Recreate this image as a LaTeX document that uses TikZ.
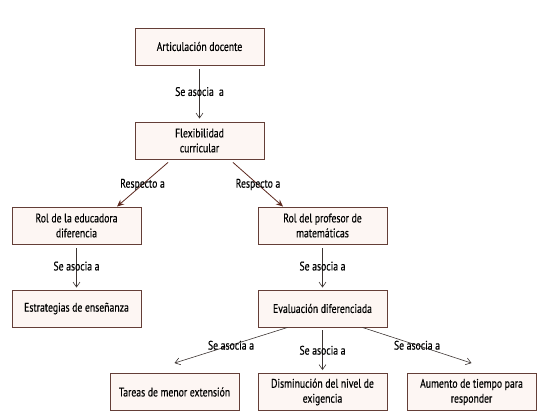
\documentclass[tikz,border=0pt]{standalone}
\usepackage{fontspec}
\setmainfont[FakeStretch=0.78,FakeBold=0.4]{PT Sans}
\usepackage{tikz}
\usetikzlibrary{arrows.meta}

\definecolor{boxline}{RGB}{100,62,55}
\definecolor{boxfill}{RGB}{253,246,243}
\definecolor{asocline}{RGB}{60,52,50}
\definecolor{respline}{RGB}{92,40,30}

\begin{document}
\begin{tikzpicture}[x=1bp,y=-1bp,
		concept/.style={draw=boxline, fill=boxfill, line width=0.9pt, minimum width=129bp, minimum height=37bp, align=center, inner sep=2pt, font=\fontsize{12.5}{15}\selectfont},
		asocia/.style={draw=asocline, line width=0.6pt, -{Straight Barb[length=5pt,width=7pt]}},
		respecto/.style={draw=respline, line width=0.8pt, -{Stealth[length=7pt,width=6pt]}},
		linklabel/.style={font=\fontsize{12.5}{15}\selectfont, inner sep=1pt}]
		
		\useasboundingbox (0,0) rectangle (548,418);
		
		% Define the concept nodes
		\node[concept] (articulacion) at (199.5,46.5) {Articulación docente};
		\node[concept] (flexibilidad) at (199.5,140.5) {Flexibilidad\\curricular};
		\node[concept] (educadora) at (76.5,225.5) {Rol de la educadora\\diferencia};
		\node[concept] (profesor) at (322.5,225.5) {Rol del profesor de\\matemáticas};
		\node[concept] (estrategias) at (76.5,308.5) {Estrategias de enseñanza};
		\node[concept] (evaluacion) at (322.5,308.5) {Evaluación diferenciada};
		\node[concept] (tareas) at (174.5,392) {Tareas de menor extensión};
		\node[concept] (disminucion) at (322.5,392) {Disminución del nivel de\\exigencia};
		\node[concept] (aumento) at (471.5,392) {Aumento de tiempo para\\responder};
		
		% Draw the "Se asocia a" links
		\draw[asocia] ([yshift=-4bp]articulacion.south) -- ([yshift=3bp]flexibilidad.north)
			node[linklabel, pos=0.45] {Se asocia\ \ a};
		\draw[asocia] ([yshift=-4bp]educadora.south) -- ([yshift=2bp]estrategias.north)
			node[linklabel, pos=0.45] {Se asocia a};
		\draw[asocia] ([yshift=-4bp]profesor.south) -- ([yshift=2bp]evaluacion.north)
			node[linklabel, pos=0.45] {Se asocia a};
		\draw[asocia] ([xshift=-35bp]evaluacion.south) -- ([yshift=10bp]tareas.north)
			node[linklabel, pos=0.5] {Se asocia a};
		\draw[asocia] ([yshift=-3bp]evaluacion.south) -- ([yshift=3bp]disminucion.north)
			node[linklabel, pos=0.5] {Se asocia a};
		\draw[asocia] ([xshift=40bp]evaluacion.south) -- ([yshift=10bp]aumento.north)
			node[linklabel, pos=0.5] {Se asocia a};
		
		% Draw the "Respecto a" links
		\draw[respecto] ([xshift=-31.5bp,yshift=-3bp]flexibilidad.south) -- ([xshift=40.5bp]educadora.north)
			node[linklabel, pos=0.5] {Respecto a};
		\draw[respecto] ([xshift=33.5bp,yshift=-3bp]flexibilidad.south) -- ([xshift=-39.5bp]profesor.north)
			node[linklabel, pos=0.5] {Respecto a};
		
	\end{tikzpicture}
\end{document}
